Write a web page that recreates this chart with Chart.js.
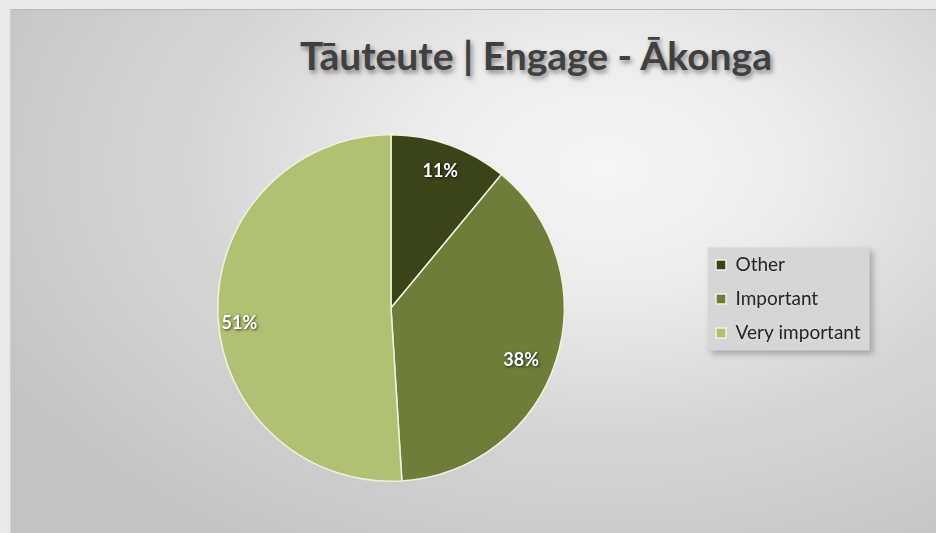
<!DOCTYPE html>
<html>
<head>
<meta charset="utf-8">
<script src="https://cdn.jsdelivr.net/npm/chart.js@4/dist/chart.umd.min.js"></script>
<style>
  html, body { margin: 0; padding: 0; width: 936px; height: 533px; overflow: hidden; background: #e9e9e9; }
  #bg { position: absolute; left: 10px; top: 9px; width: 926px; height: 524px;
        border-top: 1px solid #b9b9b9; border-left: 1px solid #cfcfcf;
        background: radial-gradient(ellipse 75% 85% at 64% 30%, #f6f6f6 0%, #ebebeb 28%, #d4d4d4 62%, #c3c3c3 100%); }
  #title { position: absolute; left: 0; width: 1072px; top: 32px; text-align: center;
           font-family: Lato, "Open Sans", sans-serif; font-weight: 700; font-size: 39px; color: #404040;
           text-shadow: 2px 3px 5px rgba(0,0,0,0.45); white-space: nowrap; }
  #wrap { position: absolute; left: 0; top: 0; width: 936px; height: 533px; }
</style>
</head>
<body>
<div id="bg"></div>
<div id="title">Tāuteute | Engage - Ākonga</div>
<div id="wrap"><canvas id="c" width="936" height="533"></canvas></div>
<script>
const categories = ['Other', 'Important', 'Very important'];
const values = [11, 38, 51];
const labelsText = ['11%', '38%', '51%'];
const colors = ['#3b4419', '#6e7e3a', '#b1c173'];
// label placement (Excel "best fit" look): distance as share of radius, angle shift in degrees
const labelRadius = [0.84, 0.81, 0.88];
const labelAngleShift = [0, 4, -4];

const legendNudge = {
  id: 'legendNudge',
  afterLayout(chart) {
    const lg = chart.legend;
    lg.top -= 9; lg.bottom -= 9;
  },
  beforeDraw(chart) {
    const lg = chart.legend;
    const hb = lg.legendHitBoxes;
    if (!hb || !hb.length) return;
    let l = Infinity, r = -Infinity, t = Infinity, b = -Infinity;
    hb.forEach(h => { l = Math.min(l, h.left); r = Math.max(r, h.left + h.width); t = Math.min(t, h.top); b = Math.max(b, h.top + h.height); });
    const ctx = chart.ctx;
    ctx.save();
    ctx.shadowColor = 'rgba(0,0,0,0.25)';
    ctx.shadowBlur = 6; ctx.shadowOffsetX = 3; ctx.shadowOffsetY = 3;
    ctx.fillStyle = '#d6d6d6';
    ctx.fillRect(l - 8, t - 8, (r - l) + 17, (b - t) + 16);
    ctx.restore();
  }
};

const sliceLabels = {
  id: 'sliceLabels',
  afterDatasetsDraw(chart) {
    const ctx = chart.ctx;
    const meta = chart.getDatasetMeta(0);
    ctx.save();
    ctx.font = '700 18px Lato, "Open Sans", sans-serif';
    ctx.textAlign = 'center';
    ctx.textBaseline = 'middle';
    ctx.fillStyle = '#ffffff';
    ctx.shadowColor = 'rgba(0,0,0,0.75)';
    ctx.shadowBlur = 3; ctx.shadowOffsetX = 1; ctx.shadowOffsetY = 1;
    meta.data.forEach((arc, i) => {
      const p = arc.getProps(['x', 'y', 'startAngle', 'endAngle', 'outerRadius'], true);
      const mid = (p.startAngle + p.endAngle) / 2 + labelAngleShift[i] * Math.PI / 180;
      const rr = p.outerRadius * labelRadius[i];
      ctx.fillText(labelsText[i], p.x + Math.cos(mid) * rr, p.y + Math.sin(mid) * rr);
    });
    ctx.restore();
  }
};

const chart = new Chart(document.getElementById('c'), {
  type: 'pie',
  data: {
    labels: categories,
    datasets: [{ data: values, backgroundColor: colors, borderColor: '#eef2dd', borderWidth: 1.5 }]
  },
  plugins: [legendNudge, sliceLabels],
  options: {
    responsive: false,
    animation: false,
    layout: { padding: { left: 81, right: 64, top: 134, bottom: 51 } },
    plugins: {
      tooltip: { enabled: false },
      title: { display: false },
      legend: {
        position: 'right',
        align: 'center',
        labels: {
          boxWidth: 10, boxHeight: 10, padding: 15,
          color: '#262626',
          font: { family: 'Lato, "Open Sans", sans-serif', size: 19 }
        }
      }
    }
  }
});
// legend sits so its items start near x=716; pie centre stays at x≈391
const lw = chart.legend.width;
chart.options.layout.padding.right = 936 - 701 - lw;
chart.update();
</script>
</body>
</html>
